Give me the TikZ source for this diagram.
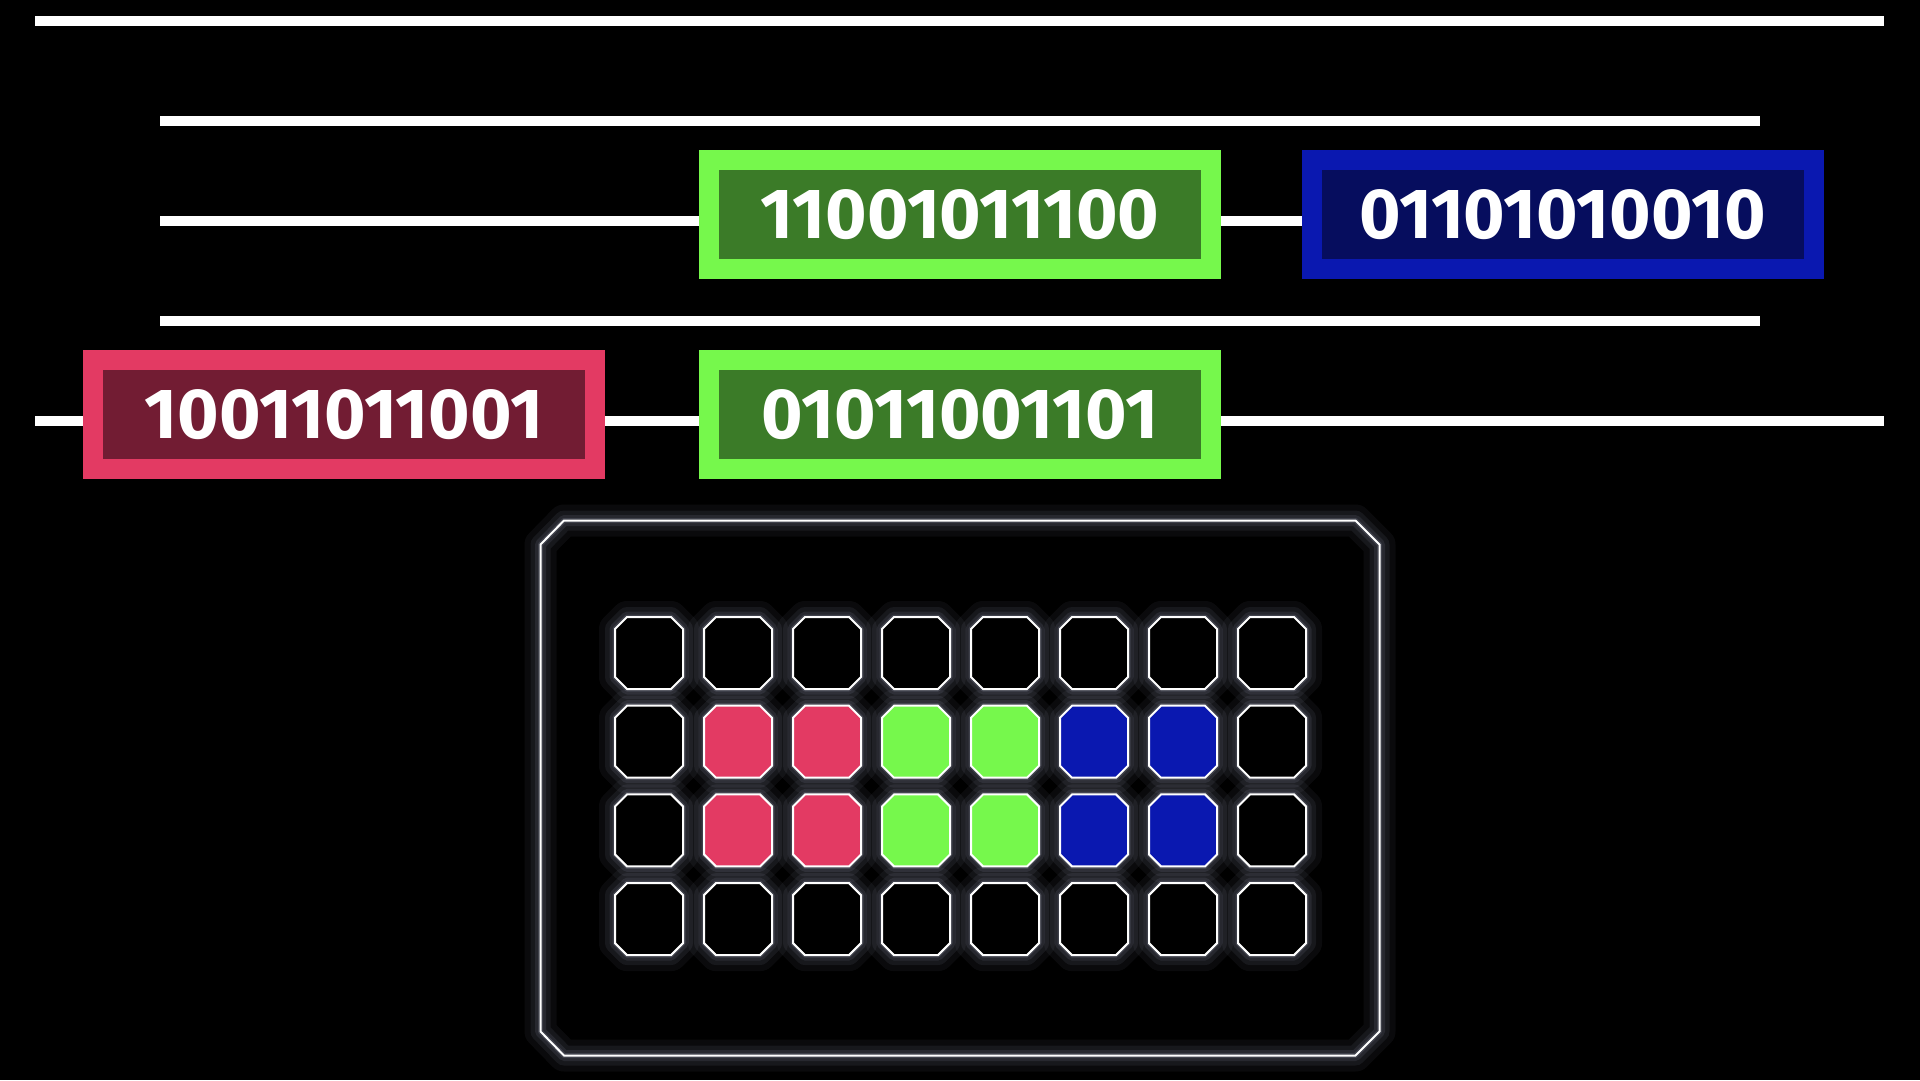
\documentclass[tikz,border=0pt]{standalone}
\usepackage{fontspec}
\newfontfamily\digitfont[Numbers={Proportional,Lining}]{Fira Sans}
\definecolor{redo}{RGB}{227,58,99}
\definecolor{redi}{RGB}{114,28,51}
\definecolor{greeno}{RGB}{118,248,76}
\definecolor{greeni}{RGB}{59,123,40}
\definecolor{blueo}{RGB}{10,24,176}
\definecolor{bluei}{RGB}{6,13,94}
\definecolor{glowc}{RGB}{205,210,240}
\tikzset{
  wire/.style={draw=white, line width=10pt},
  regbox/.style={line width=20pt, minimum width=502pt, minimum height=109pt,
    inner sep=0pt, text=white, font=\digitfont\bfseries\fontsize{71}{78}\selectfont},
  glowa/.style={draw=glowc, line width=32pt, opacity=0.05, line join=round},
  glowb/.style={draw=glowc, line width=20pt, opacity=0.07, line join=round},
  glowd/.style={draw=glowc, line width=11pt, opacity=0.09, line join=round},
  glowe/.style={draw=glowc, line width=5pt, opacity=0.14, line join=round},
  edge/.style={draw=white, line width=2pt},
}
\newcommand{\octo}[2]{({#1-22},{#2-36}) -- ({#1+22},{#2-36}) -- ({#1+34},{#2-24}) -- ({#1+34},{#2+24}) -- ({#1+22},{#2+36}) -- ({#1-22},{#2+36}) -- ({#1-34},{#2+24}) -- ({#1-34},{#2-24}) -- cycle}
\newcommand{\panelpath}{(564,520.5) -- (1355.5,520.5) -- (1379.5,544.5) -- (1379.5,1031.5) -- (1355.5,1055.5) -- (564,1055.5) -- (540.5,1031.5) -- (540.5,544.5) -- cycle}
\begin{document}
\begin{tikzpicture}[x=1pt,y=-1pt]
\fill[black] (0,0) rectangle (1920,1080);
\useasboundingbox (0,0) rectangle (1920,1080);

% free wire ends
\coordinate (l1a) at (35,21);   \coordinate (l1b) at (1884,21);
\coordinate (l2a) at (160,121); \coordinate (l2b) at (1760,121);
\coordinate (l3a) at (160,221);
\coordinate (l4a) at (160,321); \coordinate (l4b) at (1760,321);
\coordinate (l5a) at (35,421);  \coordinate (l5b) at (1884,421);

% boxes
\node[regbox, draw=greeno, fill=greeni] (g1) at (960,214.5) {11001011100};
\node[regbox, draw=blueo, fill=bluei] (b1) at (1562.5,214.5) {01101010010};
\node[regbox, draw=redo, fill=redi] (r1) at (344,414.5) {10011011001};
\node[regbox, draw=greeno, fill=greeni] (g2) at (960,414.5) {01011001101};

% wires
\draw[wire] (l1a) -- (l1b);
\draw[wire] (l2a) -- (l2b);
\draw[wire] (l3a) -- (g1.west |- l3a);
\draw[wire] (g1.east |- l3a) -- (b1.west |- l3a);
\draw[wire] (l4a) -- (l4b);
\draw[wire] (l5a) -- (r1.west |- l5a);
\draw[wire] (r1.east |- l5a) -- (g2.west |- l5a);
\draw[wire] (g2.east |- l5a) -- (l5b);

% panel glow
\path[glowa] \panelpath;
\path[glowb] \panelpath;
\path[glowd] \panelpath;
\path[glowe] \panelpath;

% octagon glows
\foreach \i in {0,...,7} {
  \foreach \j in {0,...,3} {
    \pgfmathsetmacro{\cx}{649+89*\i}
    \pgfmathsetmacro{\cy}{653+88.7*\j}
    \path[glowa] \octo{\cx}{\cy};
    \path[glowb] \octo{\cx}{\cy};
    \path[glowd] \octo{\cx}{\cy};
    \path[glowe] \octo{\cx}{\cy};
  }
}
% panel edge
\draw[edge] \panelpath;

% octagons
\foreach \i in {0,...,7} {
  \foreach \j in {0,...,3} {
    \pgfmathsetmacro{\cx}{649+89*\i}
    \pgfmathsetmacro{\cy}{653+88.7*\j}
    \def\fc{black}
    \ifnum\j>0 \ifnum\j<3
      \ifnum\i=1 \def\fc{redo}\fi
      \ifnum\i=2 \def\fc{redo}\fi
      \ifnum\i=3 \def\fc{greeno}\fi
      \ifnum\i=4 \def\fc{greeno}\fi
      \ifnum\i=5 \def\fc{blueo}\fi
      \ifnum\i=6 \def\fc{blueo}\fi
    \fi\fi
    \path[fill=\fc, edge] \octo{\cx}{\cy};
  }
}
\end{tikzpicture}
\end{document}
